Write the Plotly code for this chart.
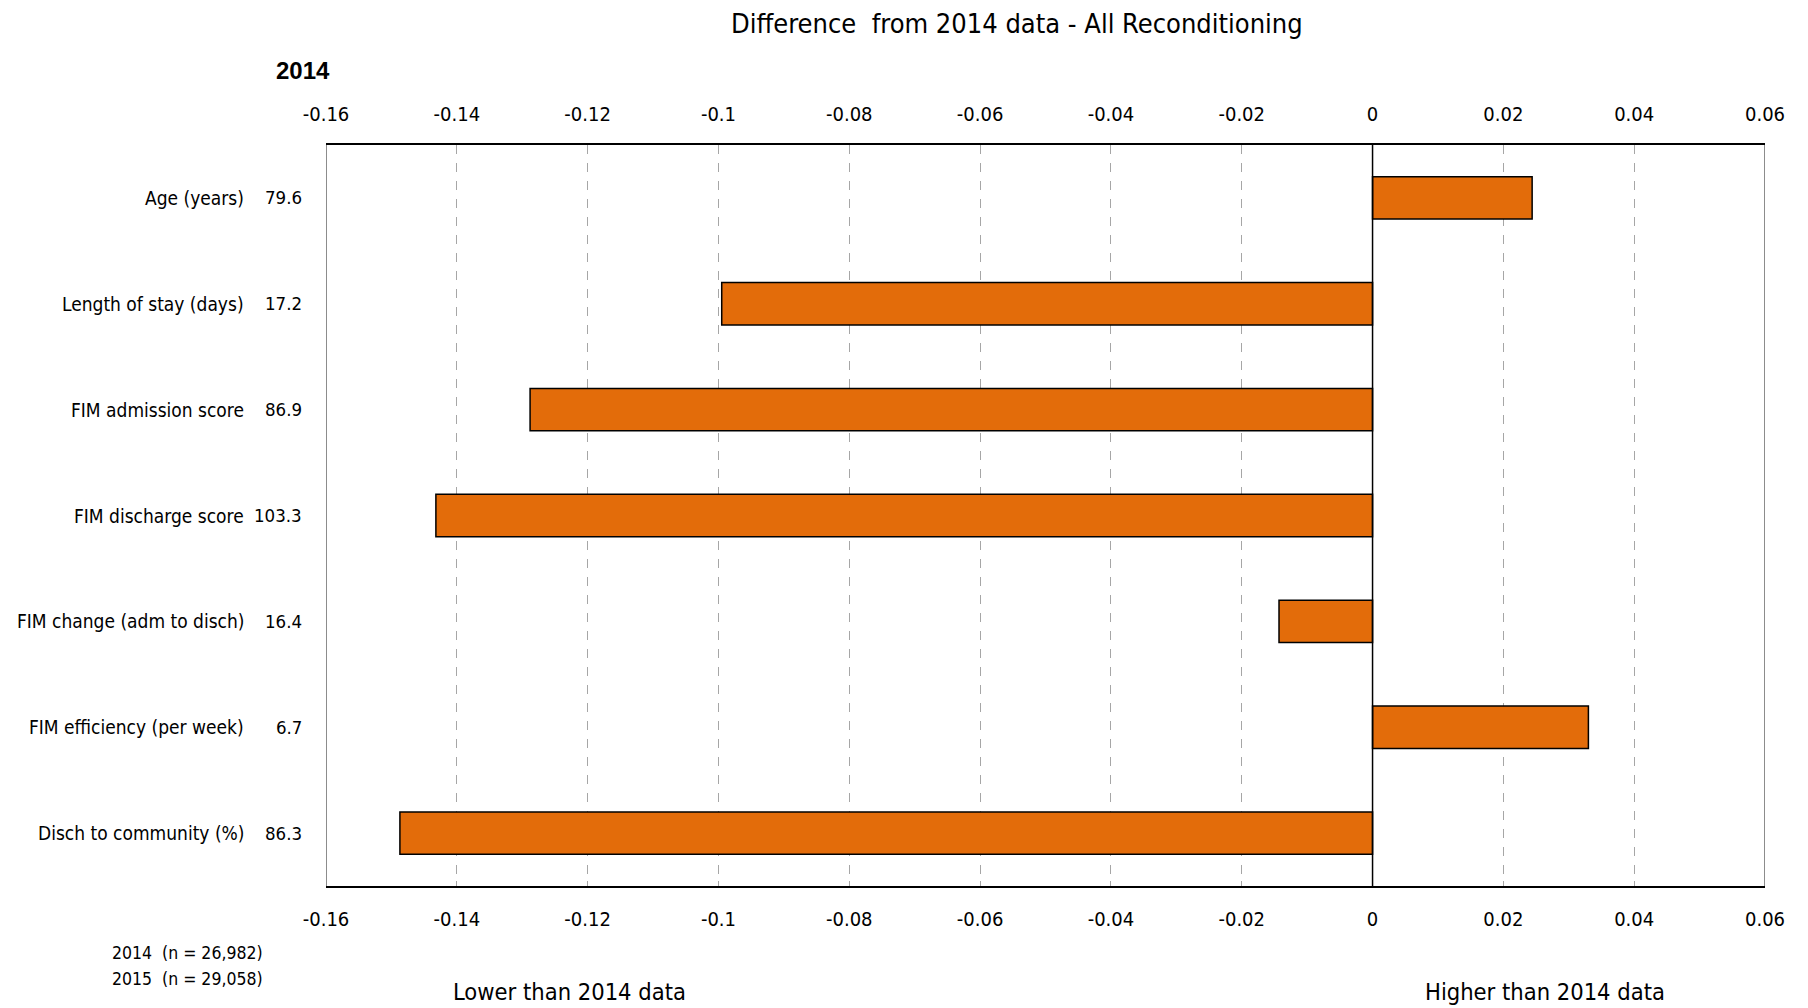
import plotly.graph_objects as go

categories = ['Age (years)', 'Length of stay (days)', 'FIM admission score',
              'FIM discharge score', 'FIM change (adm to disch)',
              'FIM efficiency (per week)', 'Disch to community (%)']
values_2014 = ['79.6', '17.2', '86.9', '103.3', '16.4', '6.7', '86.3']
difference = [0.0244, -0.0995, -0.1288, -0.1432, -0.0143, 0.0330, -0.1487]
tick_vals = [-0.16, -0.14, -0.12, -0.1, -0.08, -0.06, -0.04, -0.02, 0, 0.02, 0.04, 0.06]
tick_text = ['-0.16', '-0.14', '-0.12', '-0.1', '-0.08', '-0.06', '-0.04', '-0.02', '0', '0.02', '0.04', '0.06']

FONT = 'Liberation Sans Narrow, DejaVu Sans Condensed, Arial Narrow, sans-serif'

fig = go.Figure()
fig.add_trace(go.Bar(
    x=difference, y=categories, orientation='h', width=0.4,
    marker=dict(color='#E36C0A', line=dict(color='black', width=1.5)),
    showlegend=False))
# invisible trace to drive the top axis
fig.add_trace(go.Scatter(x=[tick_vals[0], tick_vals[-1]], y=[categories[0], categories[0]],
                         xaxis='x2', mode='markers', marker=dict(opacity=0),
                         showlegend=False, hoverinfo='skip'))

axis_common = dict(range=[-0.16, 0.06], tickvals=tick_vals, ticktext=tick_text,
                   tickfont=dict(size=20, color='black', family=FONT),
                   showgrid=True, gridcolor='#A6A6A6', griddash='dash', gridwidth=1,
                   zeroline=False, showline=True, linecolor='black', linewidth=2,
                   ticks='inside', ticklen=5, tickcolor='#A6A6A6')

fig.update_layout(
    width=1808, height=1008,
    margin=dict(l=318, r=51, t=137, b=130),
    paper_bgcolor='white', plot_bgcolor='white',
    font=dict(family=FONT, color='black'),
    title=dict(text='Difference  from 2014 data - All Reconditioning', x=0.558, xanchor='center',
               y=0.985, yanchor='middle', font=dict(size=27, family=FONT, color='black')),
    xaxis=dict(**axis_common, side='bottom', ticklabelstandoff=14),
    xaxis2=dict(**axis_common, side='top', overlaying='x', matches='x', ticklabelstandoff=14),
    yaxis=dict(categoryorder='array', categoryarray=categories[::-1],
               range=[-0.5, 6.5], showticklabels=False, ticks='',
               showgrid=False, zeroline=False),
    bargap=0.6,
)

# left/right border in gray and zero line in black
fig.add_shape(type='line', xref='x', yref='paper', x0=-0.16, x1=-0.16, y0=0, y1=1,
              line=dict(color='#8C8C8C', width=2))
fig.add_shape(type='line', xref='x', yref='paper', x0=0.06, x1=0.06, y0=0, y1=1,
              line=dict(color='#8C8C8C', width=2))
fig.add_shape(type='line', xref='x', yref='paper', x0=0, x1=0, y0=0, y1=1,
              line=dict(color='black', width=1.5), layer='above')

for cat, val in zip(categories, values_2014):
    fig.add_annotation(x=-0.0559, y=cat, xref='paper', yref='y', text=cat, showarrow=False,
                       xanchor='right', yanchor='middle', font=dict(size=19, family=FONT))
    fig.add_annotation(x=-0.0153, y=cat, xref='paper', yref='y', text=val, showarrow=False,
                       xanchor='right', yanchor='middle', font=dict(size=18.5, family=FONT))

fig.add_annotation(x=0.004, y=1.101, xref='paper', yref='paper', text='<b>2014</b>',
                   showarrow=False, xanchor='right', yanchor='middle',
                   font=dict(size=24, family='Liberation Sans, Arial, sans-serif'))
fig.add_annotation(x=-0.150, y=-0.090, xref='paper', yref='paper', text='2014  (n = 26,982)',
                   showarrow=False, xanchor='left', yanchor='middle', font=dict(size=17.5, family=FONT))
fig.add_annotation(x=-0.150, y=-0.126, xref='paper', yref='paper', text='2015  (n = 29,058)',
                   showarrow=False, xanchor='left', yanchor='middle', font=dict(size=17.5, family=FONT))
fig.add_annotation(x=0.169, y=-0.143, xref='paper', yref='paper', text='Lower than 2014 data',
                   showarrow=False, xanchor='center', yanchor='middle', font=dict(size=23.5, family=FONT))
fig.add_annotation(x=0.847, y=-0.143, xref='paper', yref='paper', text='Higher than 2014 data',
                   showarrow=False, xanchor='center', yanchor='middle', font=dict(size=23.5, family=FONT))

fig.write_html('out.html')
